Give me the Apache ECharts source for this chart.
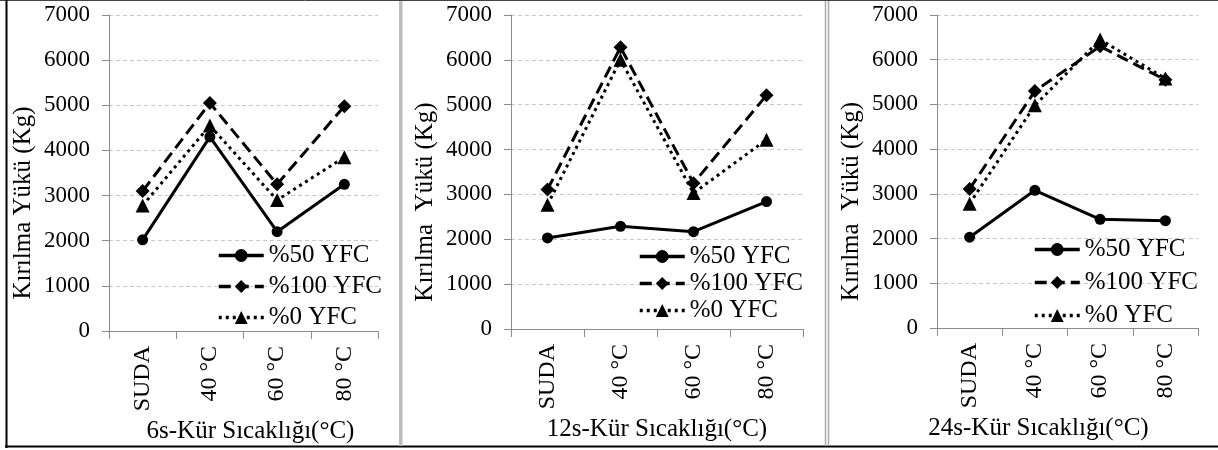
<!DOCTYPE html>
<html>
<head>
<meta charset="utf-8">
<script src="https://cdn.jsdelivr.net/npm/echarts@6/dist/echarts.min.js"></script>
<style>
html,body{margin:0;padding:0;background:#fff;}
#c{width:1218px;height:450px;}
</style>
</head>
<body>
<div id="c"></div>
<script>
const categories = ['SUDA', '40 °C', '60 °C', '80 °C'];
const seriesNames = ['%50 YFC', '%100 YFC', '%0 YFC'];
const yTicks = { min: 0, max: 7000, interval: 1000 };
const yTitles = ['Kırılma Yükü (Kg)', 'Kırılma  Yükü (Kg)', 'Kırılma  Yükü (Kg)'];
const xTitles = ['6s-Kür Sıcaklığı(°C)', '12s-Kür Sıcaklığı(°C)', '24s-Kür Sıcaklığı(°C)'];

// 6s
const p6_50  = [2020, 4300, 2200, 3250];
const p6_100 = [3100, 5050, 3250, 4980];
const p6_0   = [2780, 4550, 2900, 3850];
// 12s
const p12_50  = [2030, 2290, 2170, 2840];
const p12_100 = [3110, 6280, 3250, 5210];
const p12_0   = [2770, 6000, 3030, 4220];
// 24s
const p24_50  = [2030, 3080, 2430, 2400];
const p24_100 = [3110, 5300, 6300, 5550];
const p24_0   = [2780, 4980, 6450, 5580];

const panels = [
  [p6_50, p6_100, p6_0],
  [p12_50, p12_100, p12_0],
  [p24_50, p24_100, p24_0]
];

const FONT = 'Liberation Serif';

const grids = [
  { left: 109, top: 15, right: 1218 - 378, bottom: 450 - 331 },
  { left: 511, top: 15, right: 1218 - 803, bottom: 450 - 329 },
  { left: 937, top: 15, right: 1218 - 1198, bottom: 450 - 328 }
];
const xTitlePad = [[0, 0, 0, 14], [0, 0, 0, 0], [0, 58, 0, 0]];
const legendPos = [
  { left: 212, top: 238, itemGap: 6 },
  { left: 633, top: 239, itemGap: 2 },
  { left: 1028, top: 232, itemGap: 8 }
];

const styles = [
  { type: 'solid', symbol: 'circle', symbolSize: 11 },
  { type: [12, 6], symbol: 'diamond', symbolSize: 14 },
  { type: [3, 4], symbol: 'triangle', symbolSize: 14 }
];

const xAxes = [], yAxes = [], series = [], legends = [];
panels.forEach((vals, i) => {
  xAxes.push({
    type: 'category', gridIndex: i, data: categories, boundaryGap: true,
    name: xTitles[i], nameLocation: 'middle', nameGap: 88,
    nameTextStyle: { fontFamily: FONT, fontSize: 25, color: '#000', padding: xTitlePad[i] },
    axisLine: { lineStyle: { color: '#8c8c8c', width: 1 } },
    axisTick: { show: true, alignWithLabel: false, length: 8, lineStyle: { color: '#8c8c8c' } },
    axisLabel: { rotate: 90, margin: 15, fontFamily: FONT, fontSize: 24, color: '#000', interval: 0 },
    splitLine: { show: false }
  });
  yAxes.push({
    type: 'value', gridIndex: i, min: yTicks.min, max: yTicks.max, interval: yTicks.interval,
    name: yTitles[i], nameLocation: 'middle', nameGap: 73, nameRotate: 90,
    nameTextStyle: { fontFamily: FONT, fontSize: 25, color: '#000', padding: [0, 60, 0, 0] },
    axisLine: { show: true, lineStyle: { color: '#8c8c8c', width: 1 } },
    axisTick: { show: true, length: 7, lineStyle: { color: '#8c8c8c' } },
    axisLabel: { margin: 19, fontFamily: FONT, fontSize: 23, color: '#000', formatter: v => String(v) },
    splitLine: { show: true, lineStyle: { color: '#c8c8c8', width: 1, type: [4, 3] } }
  });
  vals.forEach((d, k) => {
    series.push({
      type: 'line', name: seriesNames[k], xAxisIndex: i, yAxisIndex: i, data: d,
      symbol: styles[k].symbol, symbolSize: styles[k].symbolSize,
      itemStyle: { color: '#000' },
      lineStyle: { color: '#000', width: 3, type: styles[k].type, cap: 'butt' },
      animation: false, z: 3 - k
    });
  });
  legends.push({
    orient: 'vertical', left: legendPos[i].left, top: legendPos[i].top,
    itemGap: legendPos[i].itemGap, itemWidth: 45, itemHeight: 16,
    data: seriesNames,
    lineStyle: { width: 3.5 },
    textStyle: { fontFamily: FONT, fontSize: 25, color: '#000', lineHeight: 24 },
    selectedMode: false
  });
});

const graphic = [
  { type: 'line', shape: { x1: 0, y1: 0.5, x2: 1218, y2: 0.5 }, style: { stroke: '#444', lineWidth: 1 }, silent: true },
  { type: 'line', shape: { x1: 6.5, y1: 0, x2: 6.5, y2: 448 }, style: { stroke: '#000', lineWidth: 2 }, silent: true },
  { type: 'line', shape: { x1: 5, y1: 446.5, x2: 1218, y2: 446.5 }, style: { stroke: '#000', lineWidth: 2 }, silent: true },
  { type: 'rect', shape: { x: 399, y: 1, width: 3.5, height: 445 }, style: { fill: '#bdbdbd' }, silent: true },
  { type: 'line', shape: { x1: 825.5, y1: 1, x2: 825.5, y2: 446 }, style: { stroke: '#aaaaaa', lineWidth: 1.5 }, silent: true },
  { type: 'line', shape: { x1: 828.5, y1: 1, x2: 828.5, y2: 446 }, style: { stroke: '#aaaaaa', lineWidth: 1.5 }, silent: true }
];

const chart = echarts.init(document.getElementById('c'), null, { renderer: 'canvas' });
chart.setOption({
  animation: false,
  backgroundColor: '#fff',
  textStyle: { fontFamily: FONT },
  grid: grids,
  xAxis: xAxes,
  yAxis: yAxes,
  legend: legends,
  series: series,
  graphic: graphic
});
</script>
</body>
</html>
